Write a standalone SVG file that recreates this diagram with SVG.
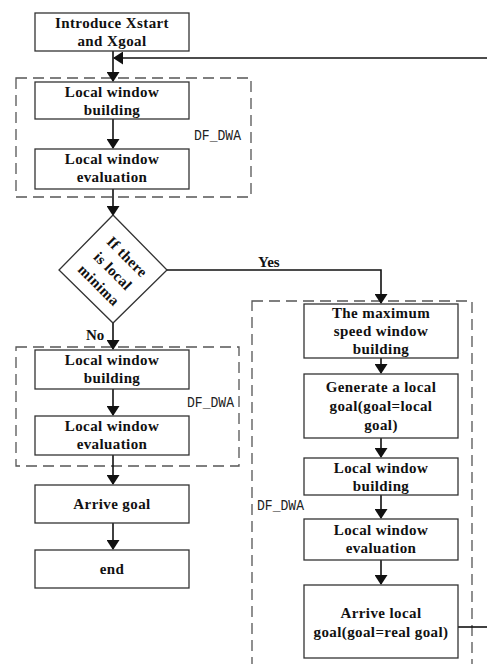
<svg xmlns="http://www.w3.org/2000/svg" width="487" height="664" viewBox="0 0 487 664">
<defs>
<marker id="ah" markerWidth="10" markerHeight="13" refX="9" refY="5" orient="auto" markerUnits="userSpaceOnUse" viewBox="0 0 10 10" preserveAspectRatio="none">
<path d="M0,0 L10,5 L0,10 Z" fill="#111"/>
</marker>
<style>
.box{fill:#fff;stroke:#333;stroke-width:1.3}
.dash{fill:none;stroke:#555;stroke-width:1.3;stroke-dasharray:11 6}
.t{font-family:"Liberation Serif","Times New Roman",serif;font-weight:bold;font-size:15px;fill:#111;text-anchor:middle;letter-spacing:0.4px}
.lbl{font-family:"Liberation Serif","Times New Roman",serif;font-weight:bold;font-size:15px;fill:#111}
.df{font-family:"Liberation Mono","Courier New",monospace;font-size:14px;fill:#222}
.c{fill:none;stroke:#111;stroke-width:1.6}
.ca{fill:none;stroke:#111;stroke-width:1.6;marker-end:url(#ah)}
</style>
</defs>
<rect width="487" height="664" fill="#fff"/>
<g id="groups">
<rect class="dash" x="16" y="78" width="235" height="119"/>
<text class="df" x="194" y="140" textLength="47" lengthAdjust="spacingAndGlyphs">DF_DWA</text>
<rect class="dash" x="16" y="347" width="223" height="119"/>
<text class="df" x="187" y="407" textLength="47" lengthAdjust="spacingAndGlyphs">DF_DWA</text>
<rect class="dash" x="252" y="301" width="220" height="380"/>
<text class="df" x="257" y="510" textLength="47" lengthAdjust="spacingAndGlyphs">DF_DWA</text>
</g>
<g id="connectors">
<path class="ca" d="M113,51 V81"/>
<path class="ca" d="M487,58 H114"/>
<path class="ca" d="M113,119 V148"/>
<path class="ca" d="M113,189 V215"/>
<path class="ca" d="M166,270 H381 V303"/>
<path class="ca" d="M113,323 V349"/>
<path class="ca" d="M113,389 V415"/>
<path class="ca" d="M113,455 V484"/>
<path class="ca" d="M113,523 V549"/>
<path class="ca" d="M381,358 V373"/>
<path class="ca" d="M381,438 V457"/>
<path class="ca" d="M381,495 V518"/>
<path class="ca" d="M381,560 V584"/>
<path class="c" d="M458,627 H487"/>
<text class="lbl" x="258" y="267">Yes</text>
<text class="lbl" x="86" y="340">No</text>
</g>
<g id="start"><rect class="box" x="35" y="13" width="154" height="38"/><text class="t" x="112" y="28">Introduce Xstart</text><text class="t" x="112" y="46">and Xgoal</text></g>
<g id="lwb1"><rect class="box" x="35" y="82" width="154" height="37"/><text class="t" x="112" y="97">Local window</text><text class="t" x="112" y="115">building</text></g>
<g id="lwe1"><rect class="box" x="35" y="149" width="154" height="40"/><text class="t" x="112" y="164">Local window</text><text class="t" x="112" y="182">evaluation</text></g>
<g id="decision"><path class="box" d="M113,215 L167,270 L113,323 L59,270 Z"/>
<g transform="translate(113,271) rotate(45)"><text class="t" x="0" y="-15">If there</text><text class="t" x="0" y="5">is local</text><text class="t" x="0" y="25">minima</text></g></g>
<g id="lwb2"><rect class="box" x="35" y="350" width="154" height="39"/><text class="t" x="112" y="365">Local window</text><text class="t" x="112" y="383">building</text></g>
<g id="lwe2"><rect class="box" x="35" y="416" width="154" height="39"/><text class="t" x="112" y="431">Local window</text><text class="t" x="112" y="449">evaluation</text></g>
<g id="arrive"><rect class="box" x="35" y="485" width="154" height="38"/><text class="t" x="112" y="509">Arrive goal</text></g>
<g id="end"><rect class="box" x="35" y="550" width="154" height="38"/><text class="t" x="112" y="574">end</text></g>
<g id="maxspeed"><rect class="box" x="304" y="304" width="154" height="54"/><text class="t" x="381" y="318">The maximum</text><text class="t" x="381" y="336">speed window</text><text class="t" x="381" y="354">building</text></g>
<g id="genlocal"><rect class="box" x="304" y="374" width="154" height="64"/><text class="t" x="381" y="392">Generate a local</text><text class="t" x="381" y="411">goal(goal=local</text><text class="t" x="381" y="430">goal)</text></g>
<g id="lwb3"><rect class="box" x="304" y="458" width="154" height="37"/><text class="t" x="381" y="473">Local window</text><text class="t" x="381" y="491">building</text></g>
<g id="lwe3"><rect class="box" x="304" y="519" width="154" height="41"/><text class="t" x="381" y="535">Local window</text><text class="t" x="381" y="553">evaluation</text></g>
<g id="arrivelocal"><rect class="box" x="304" y="585" width="154" height="73"/><text class="t" x="381" y="618">Arrive local</text><text class="t" x="381" y="637">goal(goal=real goal)</text></g>
</svg>
